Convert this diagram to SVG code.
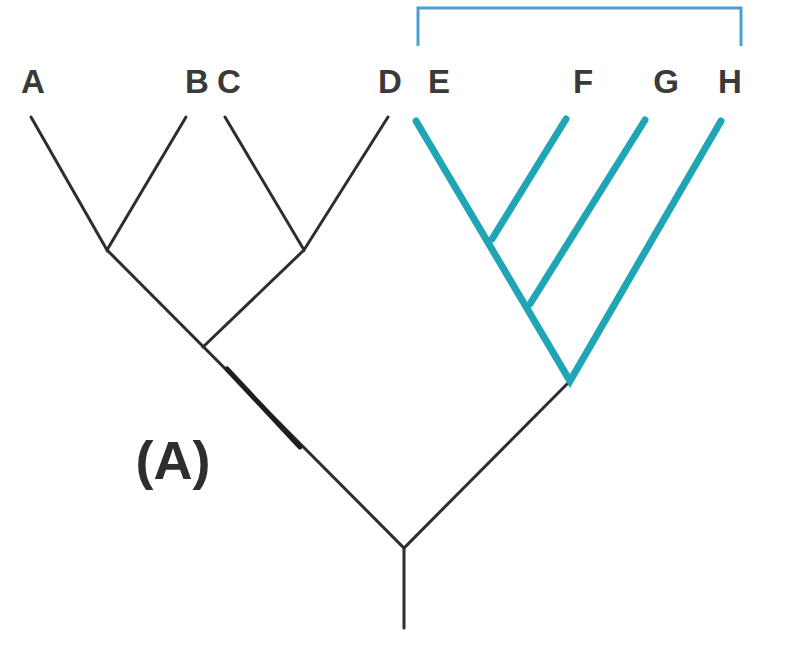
<svg xmlns="http://www.w3.org/2000/svg" width="802" height="665" viewBox="0 0 802 665">
<style>
.lbl{font-family:"Liberation Sans",Arial,sans-serif;font-weight:bold;font-size:33px;fill:#3a3a3a;text-anchor:middle}
.blk{stroke:#2e2e2e;stroke-width:3;fill:none;stroke-linecap:round}
.tea{stroke:#1fa5b5;stroke-width:7;fill:none;stroke-linecap:round;stroke-linejoin:miter}
</style>
<rect width="802" height="665" fill="#fff"/>
<g id="node-A"><text class="lbl" x="33" y="93">A</text></g>
<g id="node-B"><text class="lbl" x="197" y="93">B</text></g>
<g id="node-C"><text class="lbl" x="229" y="93">C</text></g>
<g id="node-D"><text class="lbl" x="390" y="93">D</text></g>
<g id="node-E"><text class="lbl" x="439" y="93">E</text></g>
<g id="node-F"><text class="lbl" x="583" y="93">F</text></g>
<g id="node-G"><text class="lbl" x="666" y="93">G</text></g>
<g id="node-H"><text class="lbl" x="730" y="93">H</text></g>
<g id="panel-label"><text x="173" y="479" style="font-family:'Liberation Sans',Arial,sans-serif;font-weight:bold;font-size:54px;fill:#2e2e2e;text-anchor:middle">(A)</text></g>
<g id="connectors">
<path class="blk" d="M31,117 L107,250 L186,117"/>
<path class="blk" d="M225,117 L304,250 L388,117"/>
<path class="blk" d="M107,250 L404,548 L570,381"/>
<path class="blk" d="M304,250 L203,347"/>
<path class="blk" d="M404,548 L404,628"/>
<path d="M227,369 L300,447" stroke="#1e1e1e" stroke-width="5" stroke-linecap="round"/>
<path class="tea" d="M416,121 L570,381 L721,121"/>
<path class="tea" d="M492,239 L566,119"/>
<path class="tea" d="M530,304 L645,120"/>
<path d="M418,46 L418,8 L741,8 L741,46" stroke="#4aa0d2" stroke-width="3" fill="none"/>
</g>
</svg>
